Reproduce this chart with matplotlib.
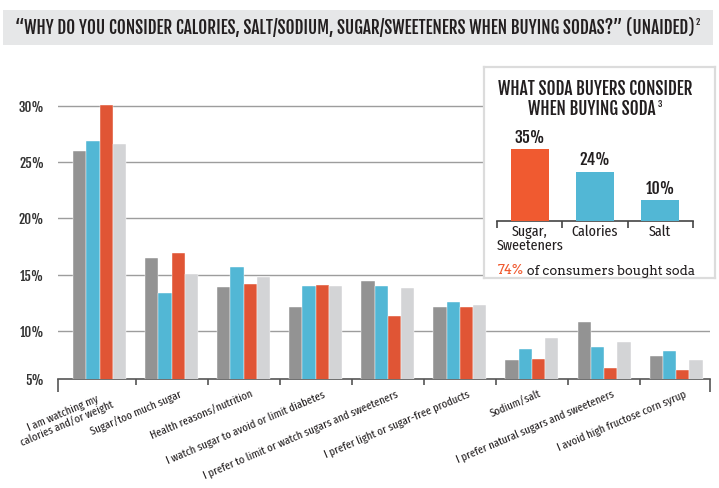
import matplotlib
matplotlib.use("Agg")
import matplotlib.pyplot as plt
import matplotlib.transforms as mtransforms
from matplotlib import font_manager
import numpy as np

# ---------------- data ----------------
categories = [
    "I am watching my\ncalories and/or weight",
    "Sugar/too much sugar",
    "Health reasons/nutrition",
    "I watch sugar to avoid or limit diabetes",
    "I prefer to limit or watch sugars and sweeteners",
    "I prefer light or sugar-free products",
    "Sodium/salt",
    "I prefer natural sugars and sweeteners",
    "I avoid high fructose corn syrup",
]
series_1 = [26.0, 16.5, 13.9, 12.1, 14.4, 12.1, 7.4, 10.8, 7.8]   # dark gray
series_2 = [26.9, 13.4, 15.7, 14.0, 14.0, 12.6, 8.4, 8.6, 8.25]   # blue
series_3 = [30.1, 16.9, 14.2, 14.1, 11.3, 12.1, 7.5, 6.7, 6.5]    # red
series_4 = [26.6, 15.1, 14.8, 14.0, 13.8, 12.3, 9.4, 9.05, 7.4]   # light gray
ytick_values = [10, 15, 20, 25, 30]
ytick_labels = ["5%", "10%", "15%", "20%", "25%", "30%"]

inset_categories = ["Sugar,\nSweeteners", "Calories", "Salt"]
inset_values = [35, 24, 10]

title = "\u201cWHY DO YOU CONSIDER CALORIES, SALT/SODIUM, SUGAR/SWEETENERS WHEN BUYING SODAS?\u201d (UNAIDED)"
title_sup = "2"
inset_title_1 = "WHAT SODA BUYERS CONSIDER"
inset_title_2 = "WHEN BUYING SODA"
inset_sup = "3"
footnote_hi = "74%"
footnote_rest = " of consumers bought soda"

# ---------------- fonts ----------------
avail = {f.name for f in font_manager.fontManager.ttflist}


def pick(*cands):
    for c in cands:
        if c in avail:
            return c
    return "DejaVu Sans"


BOLDC = pick("Fjalla One", "Oswald", "Roboto Condensed")
REGC = pick("Fira Sans Extra Condensed", "Sofia Sans Condensed",
            "Roboto Condensed", "Archivo Narrow")
SLAB = pick("Arvo", "Zilla Slab", "DejaVu Serif")

C_DGRAY = "#939393"
C_BLUE = "#52b7d5"
C_RED = "#e05535"
C_LGRAY = "#d3d4d6"
C_IRED = "#f05a30"
C_TXT = "#231f20"

W, H = 719, 488
fig = plt.figure(figsize=(W / 100, H / 100), dpi=100)
fig.patch.set_facecolor("white")
renderer = fig.canvas.get_renderer()


def rect(l, t, r, b):
    return [l / W, 1 - b / H, (r - l) / W, (b - t) / H]


def fit_width(txt, target_px):
    fs = txt.get_fontsize()
    bb = txt.get_window_extent(renderer=renderer)
    txt.set_fontsize(fs * target_px / bb.width)
    return txt


def right_of(txt):
    return txt.get_window_extent(renderer=renderer).x1 / W


# title band
band = plt.Rectangle((3 / W, 1 - 45 / H), (713 - 3) / W, 35 / H,
                     transform=fig.transFigure, facecolor="#e6e7e8",
                     edgecolor="none", zorder=0)
fig.patches.append(band)
tt = fig.text(15 / W, 1 - 28 / H, title, ha="left", va="center",
              fontsize=12, family=BOLDC, color=C_TXT)
fit_width(tt, 680)
fig.text(right_of(tt) + 1.5 / W, 1 - 22 / H, title_sup, ha="left",
         va="center", fontsize=6.5, family=BOLDC, color=C_TXT)

# ---------------- main axes ----------------
ymin, ymax = 5.74, 32.0
ax = fig.add_axes(rect(58, 83.2, 710, 379))
x = np.arange(len(categories))
w = 0.184
for k, (vals, col) in enumerate(zip([series_1, series_2, series_3, series_4],
                                    [C_DGRAY, C_BLUE, C_RED, C_LGRAY])):
    ax.bar(x + (k - 1.5) * w, vals, width=w, bottom=0, color=col,
           edgecolor="white", linewidth=0.3, zorder=3)

ax.set_xlim(-0.576, 8.47)
ax.set_ylim(ymin, ymax)
for v in ytick_values:
    ax.axhline(v, color="#9d9d9d", linewidth=1.0, zorder=1)
ax.set_yticks([ymin] + ytick_values)
ax.set_yticklabels(ytick_labels, family=BOLDC, fontsize=9.5, color="#333333")
ax.tick_params(axis="y", length=0, pad=10)

for s in ["top", "right", "left"]:
    ax.spines[s].set_visible(False)
ax.spines["bottom"].set_color("#555555")
ax.spines["bottom"].set_linewidth(1.2)

ax.set_xticks(x[:-1] + 0.5)
ax.set_xticklabels([])
ax.tick_params(axis="x", length=4, width=1.2, color="#555555", direction="out")
trans = mtransforms.blended_transform_factory(ax.transData, ax.transAxes)
for xe in ax.get_xlim():
    ax.plot([xe, xe], [0, -13 / 295.8], transform=trans, color="#555555",
            linewidth=1.2, clip_on=False, solid_capstyle="butt")

# size the category labels so the longest matches the reference length
probe = fig.text(0, 0, categories[4], family=REGC, fontsize=10)
lab_fs = 10 * 210 / probe.get_window_extent(renderer=renderer).width
probe.remove()

for i, lab in enumerate(categories):
    ax.text(i + 0.1, -10 / 295.8, lab, transform=trans, rotation=23,
            rotation_mode="anchor", ha="right", va="top",
            multialignment="center", family=REGC, fontsize=lab_fs,
            color=C_TXT, linespacing=1.0)

# ---------------- inset box ----------------
box = fig.add_axes(rect(484, 67, 715, 278))
box.set_xticks([])
box.set_yticks([])
box.set_facecolor("white")
for s in box.spines.values():
    s.set_color("#dcdcdc")
    s.set_linewidth(1.6)

it1 = fig.text(595 / W, 1 - 89 / H, inset_title_1, ha="center", va="center",
               fontsize=13, family=BOLDC, color=C_TXT)
fit_width(it1, 195)
it2 = fig.text(592 / W, 1 - 109 / H, inset_title_2, ha="center", va="center",
               fontsize=it1.get_fontsize(), family=BOLDC, color=C_TXT)
fig.text(right_of(it2) + 1.5 / W, 1 - 104 / H, inset_sup, ha="left",
         va="center", fontsize=6.5, family=BOLDC, color=C_TXT)

iax = fig.add_axes(rect(497, 140, 693, 220.7))
iax.patch.set_alpha(0)
ix = np.arange(len(inset_categories))
icolors = [C_IRED, C_BLUE, C_BLUE]
ibars = iax.bar(ix, inset_values, width=0.58, color=icolors, zorder=3)
iax.set_xlim(-0.5, 2.5)
iax.set_ylim(0, 39.4)
for b, v in zip(ibars, inset_values):
    iax.annotate(f"{v}%", (b.get_x() + b.get_width() / 2, v),
                 xytext=(0, 1.5), textcoords="offset points",
                 ha="center", va="bottom", family=BOLDC,
                 fontsize=11.5, color=C_TXT)
for s in ["top", "right", "left"]:
    iax.spines[s].set_visible(False)
iax.spines["bottom"].set_color("#444444")
iax.spines["bottom"].set_linewidth(1.2)
iax.set_yticks([])
iax.set_xticks(ix)
iax.set_xticklabels(inset_categories, family=REGC, fontsize=11,
                    color=C_TXT, linespacing=1.0)
iax.tick_params(axis="x", which="major", length=0, pad=3)
iax.set_xticks([-0.5, 0.5, 1.5, 2.5], minor=True)
iax.tick_params(axis="x", which="minor", length=5, width=1.2, color="#444444")

t1 = fig.text(498 / W, 1 - 271 / H, footnote_hi, ha="left", va="center",
              family=SLAB, fontsize=10, color=C_IRED)
t2 = fig.text(right_of(t1), 1 - 271 / H, footnote_rest, ha="left",
              va="center", family=SLAB, fontsize=10, color=C_TXT)
tot = (t2.get_window_extent(renderer=renderer).x1
       - t1.get_window_extent(renderer=renderer).x0)
scale = 197 / tot
for t in (t1, t2):
    t.set_fontsize(t.get_fontsize() * scale)
t2.set_x(right_of(t1))

fig.savefig("out.png", dpi=100, facecolor="white")
